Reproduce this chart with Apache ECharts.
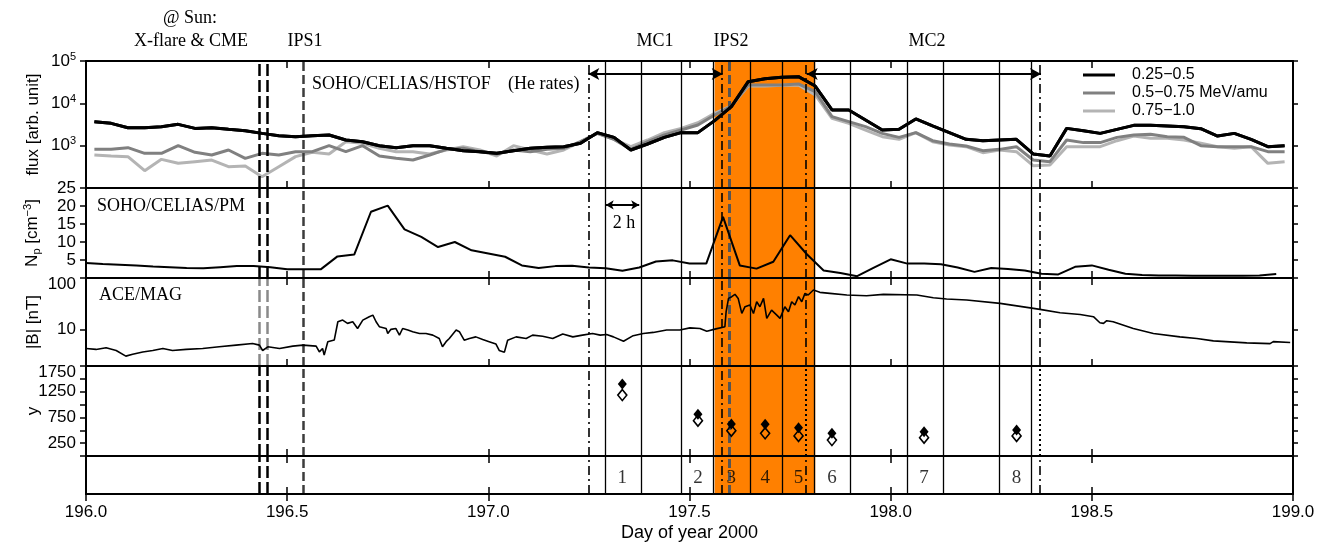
<!DOCTYPE html>
<html><head><meta charset="utf-8">
<script src="https://cdn.jsdelivr.net/npm/echarts@6.0.0/dist/echarts.min.js"></script>
<style>html,body{margin:0;padding:0;background:#fff}#c{width:1319px;height:543px}</style>
</head><body><div id="c"></div>
<script>
const SANS = "'Liberation Sans', Arial, sans-serif";
const SERIF = "'Liberation Serif', 'Times New Roman', serif";

// ---- data ----
const legendNames = ['0.25\u22120.5', '0.5\u22120.75 MeV/amu', '0.75\u22121.0'];
const fluxBlack = [3690,3370,2660,2660,2810,3190,2560,2660,2430,2260,
  1950,1720,1630,1720,1790,1360,1240,1000,897,1000,
  1000,865,762,721,659,762,865,914,946,1135,
  2030,1570,791,1095,1570,2030,2030,3900,8340,32510,
  38280,41100,42660,25640,6970,6970,4040,2340,2430,4270,
  2920,2030,1410,1310,1360,1410,636,570,2560,2260,
  1950,2430,3020,3020,2920,2810,2520,1690,1950,1410,
  946,1000];
const fluxDark = [818,818,897,659,659,1000,697,603,791,502,
  659,603,721,721,1000,721,1000,570,502,458,
  603,818,865,721,635,791,721,818,865,1240,
  1950,1410,818,1240,1790,2340,3080,5300,8650,27100,
  27100,27100,28640,18880,4840,3690,2810,1950,1570,2030,
  1310,1095,980,762,818,946,458,419,1360,1180,
  1180,1570,1790,1850,1630,1570,1000,946,946,946,
  721,721];
const fluxLight = [603,570,550,256,475,383,419,458,319,331,
  185,319,550,697,635,1240,1135,865,721,721,
  635,791,946,791,570,1000,791,635,791,1240,
  1950,1410,946,1360,2030,2560,3490,5810,8650,25640,
  25640,26600,27100,15740,4430,3370,2340,1630,1410,2030,
  1240,1040,946,684,791,721,337,349,946,946,
  946,1310,1690,1490,1490,1360,1135,946,865,946,
  383,419];
const npVals = [4.2,3.9,3.7,3.5,3.2,3.0,2.8,2.7,3.0,3.3,3.3,3.0,2.4,2.4,2.4,
  6.0,6.5,18.4,20.1,13.5,11.4,8.6,
  10.0,7.7,6.8,5.9,3.5,2.8,3.3,3.4,2.9,2.7,2.0,2.9,4.6,4.9,4.0,4.0,17.0,3.5,2.6,4.5,11.9,6.6,2.1,1.4,0.5,2.9,
  5.2,4.0,4.0,3.8,2.9,1.7,2.8,2.5,2.1,1.2,1.0,3.1,3.5,2.3,1.2,0.8,0.7,0.7,0.6,0.6,0.6,0.6,0.7,1.1];
const bDays = [
  196.000,196.025,196.050,196.075,196.099,196.116,196.141,196.166,196.191,196.215,
  196.249,196.290,196.331,196.373,196.414,196.431,196.439,196.452,196.481,196.514,
  196.539,196.572,196.580,196.588,196.592,196.601,196.617,196.626,196.638,196.650,
  196.663,196.675,196.688,196.704,196.713,196.721,196.729,196.746,196.750,196.758,
  196.770,196.779,196.787,196.800,196.812,196.829,196.845,196.862,196.878,196.886,
  196.895,196.903,196.920,196.928,196.940,196.953,196.969,196.986,197.002,197.019,
  197.027,197.040,197.048,197.069,197.094,197.110,197.135,197.160,197.185,197.210,
  197.234,197.259,
  197.278,197.294,197.311,197.336,197.360,197.385,197.410,197.443,197.476,197.501,
  197.526,197.543,197.563,197.588,197.591,197.597,197.605,197.613,197.621,197.630,
  197.638,197.650,197.659,197.667,197.675,197.684,197.692,197.704,197.717,197.725,
  197.737,197.746,197.754,197.762,197.771,197.779,197.787,197.795,197.808,197.824,
  197.849,197.891,197.940,197.982,198.065,198.106,198.139,198.189,198.272,198.355,
  198.371,198.421,198.471,198.504,198.520,198.529,198.537,198.553,198.603,198.653,
  198.719,198.761,198.802,198.885,198.943,198.951,198.993];
const bVals = [
  4.36,4.18,4.51,3.98,3.10,3.37,3.74,3.98,4.36,3.98,
  4.18,4.36,4.70,5.06,5.45,5.06,3.98,4.70,4.36,4.84,
  5.06,4.84,3.74,4.36,3.24,5.87,6.33,14.3,15.4,13.3,
  14.3,10.6,15.4,17.9,19.2,14.3,11.5,10.6,8.5,10.2,
  10.6,7.9,10.6,9.9,9.2,8.5,8.5,7.9,6.8,4.7,
  5.9,6.8,9.9,9.2,6.3,6.8,7.3,6.5,5.9,5.3,
  4.0,3.7,6.3,7.3,6.8,7.9,7.5,6.8,8.3,7.3,
  7.9,8.5,
  7.9,8.1,7.3,6.0,7.7,8.5,8.9,9.9,9.9,10.9,
  10.6,9.4,10.3,11.5,22.3,40.4,43.6,48.3,40.4,20.7,
  27.9,30.1,20.7,34.8,27.9,40.4,16.6,24.0,19.2,16.6,
  27.9,22.3,34.8,30.1,43.6,34.8,50.5,46.9,58.6,52.8,
  50.5,46.9,45.5,48.3,46.9,41.7,39.3,37.5,32.4,25.9,
  24.8,21.3,19.8,17.9,13.7,13.3,15.0,14.3,10.6,8.5,
  7.3,6.8,6.1,5.6,5.4,5.9,5.7];
const flareDays = [196.430, 196.452];
const ips1Day = 196.539;
const ips2Day = 197.598;
const mc1Bounds = [197.2485, 197.5825];
const mc2Bounds = [197.7913, 198.3737];
const intervalEdges = [197.2917,197.375,197.4792,197.5625,197.6458,197.7292,197.8125,197.8958,198.0417,198.125,198.2708,198.3542];
const intervalCenters = [197.333,197.521,197.604,197.688,197.771,197.854,198.083,198.313];
const intervalLabels = ['1','2','3','4','5','6','7','8'];
const yFilled = [1400,811,622,616,551,441,473,506];
const yOpen = [1186,687,492,441,389,311,357,389];
const shadeBand = [197.5625, 197.8125];
const mcArrowFlux = 49300;
const twoHourArrow = [197.2917, 197.375, 20.3];
const labelRow = 0.42;

const fluxTime = fluxBlack.map((_, i) => 196 + (i + 0.5) / 24);
const npTime = npVals.map((_, k) => 196 + k / 24);

// ---- layout ----
const panels = [[61,127],[188,90],[278,88],[366,90],[456,38]];
const grids = panels.map(p => ({left:86, right:26, top:p[0], height:p[1], show:false, containLabel:false, outerBoundsMode:'none'}));

const axLine = {show:true, lineStyle:{color:'#000', width:2}};
const xAxes = [];
panels.forEach((p, g) => {
  xAxes.push({type:'value', gridIndex:g, min:196, max:199, interval:0.5, position:'bottom', z:10,
    axisLine:axLine, splitLine:{show:false},
    axisTick:{show:true, inside:true, length:7, lineStyle:{color:'#000', width:1.5}},
    axisLabel:{show:g===4, formatter:v=>v.toFixed(1), fontFamily:SANS, fontSize:17, color:'#000', margin:10, showMinLabel:true, showMaxLabel:true},
    name: g===4 ? 'Day of year 2000' : '', nameLocation:'middle', nameGap:30, nameMoveOverlap:false,
    nameTextStyle:{fontFamily:SANS, fontSize:18, color:'#000'}});
});
panels.forEach((p, g) => {
  xAxes.push({type:'value', gridIndex:g, min:196, max:199, interval:0.5, position:'top', z:10,
    axisLine:axLine, splitLine:{show:false},
    axisTick:{show:true, inside:true, length:7, lineStyle:{color:'#000', width:1.5}},
    axisLabel:{show:false}});
});

const lowRich = {lo:{fontFamily:SANS, fontSize:17, color:'#000', padding:[12,0,0,0]}};
const yLabelBase = {fontFamily:SANS, fontSize:17, color:'#000', margin:10};
const nameStyle = {fontFamily:SANS, fontSize:17, color:'#000',
  rich:{s:{fontFamily:SANS, fontSize:11, color:'#000', padding:[9,0,0,0]}, p:{fontFamily:SANS, fontSize:11, color:'#000', padding:[0,0,9,0]}}};
const yTick = {show:true, inside:false, length:6, lineStyle:{color:'#000', width:1.5}};
const yDefs = [
  {type:'log', logBase:10, min:100, max:100000, name:'flux [arb. unit]',
   label:{formatter:v=>{const e=Math.round(Math.log10(v)); return e<=2?'':'{b|10}{s|'+e+'}';},
     rich:{b:{fontFamily:SANS,fontSize:17,color:'#000'}, s:{fontFamily:SANS,fontSize:11,color:'#000',padding:[0,0,9,0]}}}},
  {type:'value', min:0, max:25, interval:5, name:'N{s|p} [cm{p|\u22123}]',
   label:{formatter:v=>v===0?'':String(v)}},
  {type:'log', logBase:10, min:2, max:100, name:'|B| [nT]',
   label:{formatter:v=>{const l=Math.log10(v); if (!(Math.abs(l-Math.round(l))<1e-6 && l>0.5)) return ''; const r=Math.round(v); return r===100?'{lo|100}':String(r);}, rich:lowRich}},
  {type:'value', min:0, max:1750, interval:250, name:'y',
   label:{formatter:v=>(Math.round(v/250)%2===1)?(v===1750?'{lo|1750}':String(v)):'', rich:lowRich}},
  {type:'value', min:0, max:1, interval:1, name:'', label:{show:false}, noTick:true}
];
const yAxes = [];
yDefs.forEach((d, g) => {
  const ax = {type:d.type, gridIndex:g, min:d.min, max:d.max, position:'left', z:10,
    axisLine:axLine, splitLine:{show:false},
    axisTick: d.noTick ? {show:false} : yTick,
    axisLabel: Object.assign({}, yLabelBase, d.label),
    name:d.name, nameLocation:'middle', nameRotate:90, nameGap:44, nameMoveOverlap:false, nameTextStyle:nameStyle};
  if (d.logBase) ax.logBase = d.logBase;
  if (d.interval) ax.interval = d.interval;
  yAxes.push(ax);
});
yDefs.forEach((d, g) => {
  const ax = {type:d.type, gridIndex:g, min:d.min, max:d.max, position:'right', z:10,
    axisLine:axLine, splitLine:{show:false},
    axisTick: d.noTick ? {show:false} : {show:true, inside:false, length:5, lineStyle:{color:'#000', width:1.5}},
    axisLabel:{show:false}};
  if (d.logBase) ax.logBase = d.logBase;
  if (d.interval) ax.interval = d.interval;
  yAxes.push(ax);
});

// ---- vertical marker lines ----
function vlineData(g) {
  const d = [];
  const solid = {type:'solid', color:'#000', width:1.3};
  intervalEdges.forEach(x => d.push({xAxis:x, lineStyle:solid}));
  flareDays.forEach(x => d.push({xAxis:x, lineStyle:{type:[12,4], color: g===2 ? '#8a8a8a' : '#000', width:2.5}}));
  d.push({xAxis:ips1Day, lineStyle:{type:[9,4], color:'#3c3c3c', width:2.5}});
  d.push({xAxis:ips2Day, lineStyle:{type:[9,4], color:'#555', width:3}});
  const dashDot = {type:[9,4,2,4], color:'#000', width:1.6};
  mc1Bounds.forEach(x => d.push({xAxis:x, lineStyle:dashDot}));
  mc2Bounds.forEach(x => d.push({xAxis:x, lineStyle: g===3 ? {type:[2,3], color:'#000', width:2} : dashDot}));
  return d;
}
const arrowStyle = {type:'solid', color:'#000', width:2};
function arrowPair(x0, x1, y, size) {
  return [{coord:[x0,y], symbol:'arrow', symbolSize:size, lineStyle:arrowStyle},
          {coord:[x1,y], symbol:'arrow', symbolSize:size}];
}

const series = [];
panels.forEach((p, g) => {
  series.push({type:'line', name:'band'+g, xAxisIndex:g, yAxisIndex:g, data:[], z:1, silent:true,
    markArea:{silent:true, itemStyle:{color:'#FF8000'}, data:[[{xAxis:shadeBand[0]},{xAxis:shadeBand[1]}]]}});
  const ml = vlineData(g);
  if (g === 0) {
    ml.push(arrowPair(mc1Bounds[0], mc1Bounds[1], mcArrowFlux, [9,11]));
    ml.push(arrowPair(mc2Bounds[0], mc2Bounds[1], mcArrowFlux, [9,11]));
  }
  if (g === 1) {
    ml.push(arrowPair(twoHourArrow[0], twoHourArrow[1], twoHourArrow[2], [7,8]));
  }
  series.push({type:'line', name:'lines'+g, xAxisIndex:g, yAxisIndex:g, data:[], z:3, silent:true,
    markLine:{silent:true, symbol:['none','none'], label:{show:false}, animation:false, data:ml}});
});
const fluxColors = ['#000000', '#808080', '#b4b4b4'];
[fluxBlack, fluxDark, fluxLight].forEach((arr, s) => {
  series.push({type:'line', name:legendNames[s], xAxisIndex:0, yAxisIndex:0, z:5 - s * 0.1,
    data: arr.map((v, i) => [fluxTime[i], v]), symbol:'none', showSymbol:false,
    lineStyle:{color:fluxColors[s], width:3}, itemStyle:{color:fluxColors[s]}});
});
// draw black on top
series.push(Object.assign({}, series[series.length - 3], {name:'blackTop', z:6}));
series.push({type:'line', name:'Np', xAxisIndex:1, yAxisIndex:1, z:5, data:npVals.map((v,k)=>[npTime[k], v]),
  symbol:'none', lineStyle:{color:'#000', width:2}});
series.push({type:'line', name:'B', xAxisIndex:2, yAxisIndex:2, z:5, data:bVals.map((v,i)=>[bDays[i], v]),
  symbol:'none', lineStyle:{color:'#000', width:1.6}});
series.push({type:'scatter', name:'filled', xAxisIndex:3, yAxisIndex:3, z:5, symbol:'diamond', symbolSize:[9,11],
  data:yFilled.map((v,i)=>[intervalCenters[i], v]), itemStyle:{color:'#000', opacity:1}});
series.push({type:'scatter', name:'open', xAxisIndex:3, yAxisIndex:3, z:5, symbol:'diamond', symbolSize:[9,11],
  data:yOpen.map((v,i)=>[intervalCenters[i], v]), itemStyle:{color:'rgba(0,0,0,0)', borderColor:'#000', borderWidth:1.6, opacity:1}});
series.push({type:'scatter', name:'labels', xAxisIndex:4, yAxisIndex:4, z:5, symbolSize:1,
  data:intervalCenters.map((c,i)=>({value:[c, labelRow], name:intervalLabels[i]})),
  itemStyle:{color:'rgba(0,0,0,0)'},
  label:{show:true, position:'inside', formatter:p=>p.name, fontFamily:SERIF, fontSize:19, color:'#000'}});

const annotations = [
  ['@ Sun:', 190, 18, 'center'],
  ['X-flare & CME', 191, 41, 'center'],
  ['IPS1', 305, 41, 'center'],
  ['MC1', 655, 41, 'center'],
  ['IPS2', 731, 41, 'center'],
  ['MC2', 927, 41, 'center'],
  ['SOHO/CELIAS/HSTOF', 312, 84, 'left'],
  ['(He rates)', 508, 84, 'left'],
  ['SOHO/CELIAS/PM', 97, 206, 'left'],
  ['ACE/MAG', 99, 295, 'left'],
  ['2 h', 624, 223, 'center']
];
const graphic = annotations.map(a => ({type:'text', x:a[1], y:a[2], z:100, silent:true,
  style:{text:a[0], font:'18px ' + SERIF, fill:'#000', align:a[3], verticalAlign:'middle', textAlign:a[3], textVerticalAlign:'middle'}}));

const option = {
  animation:false,
  backgroundColor:'#fff',
  grid:grids, xAxis:xAxes, yAxis:yAxes, series:series, graphic:graphic,
  legend:{data:legendNames, orient:'vertical', left:1078, top:62, icon:'rect', itemWidth:32, itemHeight:3, itemGap:2,
    selectedMode:false, textStyle:{fontFamily:SANS, fontSize:16, color:'#000', padding:[0,0,0,12]}}
};
const chart = echarts.init(document.getElementById('c'), null, {renderer:'canvas'});
chart.setOption(option);
</script></body></html>
